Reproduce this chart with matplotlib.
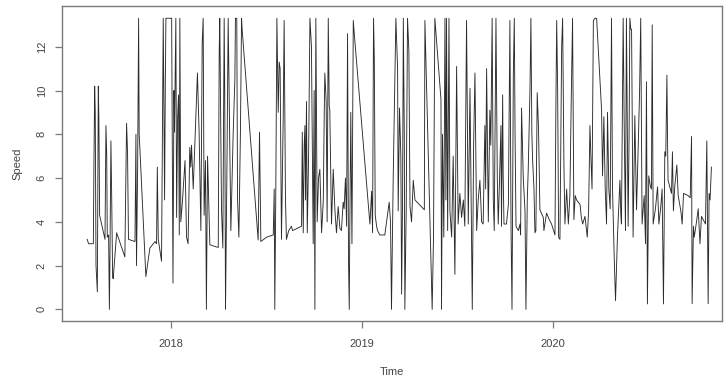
import matplotlib.pyplot as plt

# Tiempo (anos decimales) y velocidad
tiempo = [
    2017.562, 2017.569, 2017.594, 2017.597, 2017.601, 2017.604, 2017.608, 2017.615, 2017.620, 2017.623,
    2017.627, 2017.655, 2017.660, 2017.664, 2017.667, 2017.674, 2017.678, 2017.681, 2017.686, 2017.690,
    2017.695, 2017.698, 2017.716, 2017.759, 2017.768, 2017.773, 2017.778, 2017.812, 2017.817, 2017.820,
    2017.826, 2017.831, 2017.834, 2017.838, 2017.869, 2017.890, 2017.917, 2017.925, 2017.929, 2017.934,
    2017.951, 2017.960, 2017.967, 2017.971, 2017.974, 2018.004, 2018.007, 2018.011, 2018.016, 2018.019,
    2018.026, 2018.030, 2018.035, 2018.040, 2018.044, 2018.047, 2018.052, 2018.061, 2018.074,
    2018.082, 2018.090, 2018.099, 2018.104, 2018.108, 2018.117, 2018.139, 2018.148, 2018.157, 2018.164,
    2018.169, 2018.174, 2018.181, 2018.186, 2018.192, 2018.204, 2018.248, 2018.253, 2018.256, 2018.265,
    2018.272, 2018.279, 2018.282, 2018.286, 2018.293, 2018.300, 2018.307, 2018.314, 2018.326, 2018.335,
    2018.338, 2018.345, 2018.349, 2018.356, 2018.364, 2018.370, 2018.373, 2018.448, 2018.457, 2018.464,
    2018.471, 2018.501, 2018.536, 2018.541, 2018.544, 2018.549, 2018.555, 2018.562, 2018.567, 2018.572,
    2018.579, 2018.588, 2018.593, 2018.600, 2018.605, 2018.617, 2018.631,
    2018.637, 2018.684, 2018.688, 2018.693, 2018.698, 2018.702, 2018.705, 2018.710, 2018.714, 2018.721,
    2018.728, 2018.736, 2018.745, 2018.750, 2018.754, 2018.759, 2018.766, 2018.773, 2018.780, 2018.789,
    2018.798, 2018.803, 2018.806, 2018.813, 2018.818, 2018.824, 2018.829, 2018.832, 2018.841, 2018.850,
    2018.859, 2018.867, 2018.876, 2018.885, 2018.893, 2018.902, 2018.907, 2018.914, 2018.920, 2018.925,
    2018.930, 2018.934, 2018.937, 2018.942, 2018.948, 2018.955, 2018.960, 2019.042, 2019.051, 2019.056,
    2019.061, 2019.065, 2019.070, 2019.077, 2019.082, 2019.094, 2019.120, 2019.143, 2019.150, 2019.155,
    2019.164, 2019.178,
    2019.187, 2019.190, 2019.197, 2019.204, 2019.208, 2019.213, 2019.217, 2019.222, 2019.225, 2019.232,
    2019.239, 2019.246, 2019.252, 2019.260, 2019.269, 2019.278, 2019.327, 2019.330, 2019.368, 2019.375,
    2019.382, 2019.414, 2019.417, 2019.422, 2019.429, 2019.435, 2019.440, 2019.443, 2019.449, 2019.456,
    2019.461, 2019.470, 2019.478, 2019.484, 2019.487, 2019.496, 2019.504, 2019.513, 2019.522, 2019.531,
    2019.539, 2019.548, 2019.557, 2019.566, 2019.573, 2019.578, 2019.585, 2019.592, 2019.601, 2019.609,
    2019.618, 2019.627, 2019.635, 2019.644, 2019.648, 2019.653, 2019.662, 2019.670, 2019.675, 2019.682,
    2019.688, 2019.693, 2019.702, 2019.709, 2019.714, 2019.721, 2019.728,
    2019.731, 2019.737, 2019.740, 2019.744, 2019.757, 2019.767, 2019.775, 2019.781, 2019.786, 2019.793,
    2019.798, 2019.802, 2019.807, 2019.819, 2019.828, 2019.831, 2019.836, 2019.845, 2019.854, 2019.859,
    2019.866, 2019.871, 2019.880, 2019.885, 2019.890, 2019.894, 2019.901, 2019.906, 2019.911, 2019.918,
    2019.925, 2019.932, 2019.950, 2019.953, 2019.967, 2019.981, 2019.993, 2020.011, 2020.016, 2020.020,
    2020.025, 2020.030, 2020.037, 2020.042, 2020.046, 2020.051, 2020.058, 2020.063, 2020.072, 2020.081,
    2020.089, 2020.096, 2020.103, 2020.110, 2020.117, 2020.124, 2020.133, 2020.142, 2020.149, 2020.156,
    2020.168, 2020.180, 2020.187, 2020.194, 2020.199, 2020.205, 2020.212, 2020.220, 2020.229, 2020.255,
    2020.260, 2020.267, 2020.274, 2020.281,
    2020.286, 2020.293, 2020.300, 2020.307, 2020.312, 2020.321, 2020.328, 2020.338, 2020.351, 2020.356,
    2020.359, 2020.368, 2020.373, 2020.380, 2020.385, 2020.391, 2020.394, 2020.399, 2020.403, 2020.408,
    2020.412, 2020.420, 2020.429, 2020.438, 2020.447, 2020.454, 2020.460, 2020.467, 2020.478, 2020.485,
    2020.490, 2020.495, 2020.502, 2020.511, 2020.516, 2020.520, 2020.525, 2020.537, 2020.548, 2020.555,
    2020.565, 2020.572, 2020.579, 2020.586, 2020.591, 2020.597, 2020.600, 2020.603, 2020.621, 2020.626,
    2020.631, 2020.638, 2020.649, 2020.656, 2020.670, 2020.677, 2020.684, 2020.708, 2020.719, 2020.726,
    2020.729, 2020.736, 2020.740, 2020.752, 2020.761, 2020.770, 2020.778, 2020.799, 2020.806, 2020.813,
    2020.818, 2020.823, 2020.830,
]

velocidad = [
    3.2, 3.0, 3.0, 6.5, 10.2, 9.0, 2.0, 0.8, 10.2, 8.7,
    4.3, 3.2, 8.4, 7.1, 3.3, 3.4, 0.0, 2.4, 7.7, 5.2,
    1.5, 1.4, 3.5, 2.4, 8.5, 7.2, 3.2, 3.1, 8.0, 2.0,
    6.5, 13.3, 8.0, 7.3, 1.5, 2.8, 3.1, 3.0, 6.5, 3.2,
    2.2, 13.3, 5.0, 10.5, 13.3, 13.3, 8.3, 1.2, 10.0, 8.1,
    13.3, 4.2, 8.7, 9.8, 3.4, 13.3, 4.0, 5.0, 6.8,
    3.3, 3.0, 7.4, 6.5, 7.5, 5.5, 10.8, 8.0, 3.6, 12.2,
    13.3, 4.3, 6.8, 0.0, 7.0, 2.95, 2.83, 11.8, 13.3, 4.6,
    2.8, 13.3, 9.9, 0.0, 6.0, 13.3, 8.5, 3.6, 8.0, 10.5,
    13.3, 13.3, 5.0, 3.3, 8.0, 13.3, 12.8, 4.2, 3.17, 8.1,
    3.1, 3.3, 3.4, 5.5, 0.0, 5.0, 13.3, 9.0, 11.3, 11.0,
    3.2, 8.7, 13.2, 5.0, 3.2, 3.6, 3.8,
    3.6, 3.8, 8.1, 3.5, 7.5, 8.4, 5.0, 9.5, 3.5, 7.0,
    13.3, 12.0, 3.0, 10.0, 0.0, 13.3, 4.0, 6.0, 6.4, 3.5,
    5.0, 9.0, 10.8, 9.5, 4.0, 13.3, 9.3, 9.1, 3.9, 6.4,
    4.5, 3.5, 4.7, 3.7, 3.6, 4.9, 4.6, 6.0, 3.8, 12.6,
    2.2, 0.0, 4.0, 9.0, 3.0, 13.2, 12.6, 3.9, 5.4, 3.5,
    13.3, 11.5, 4.3, 3.8, 3.6, 3.4, 3.4, 4.9, 4.0, 0.0,
    6.0, 13.3,
    11.0, 4.5, 9.2, 7.0, 0.7, 5.0, 13.3, 8.0, 0.0, 4.5,
    13.3, 11.8, 4.7, 4.0, 5.9, 5.0, 4.55, 13.2, 0.0, 3.3,
    13.3, 9.6, 0.0, 8.0, 3.3, 13.3, 5.0, 13.3, 3.6, 13.3,
    4.5, 3.3, 7.0, 3.4, 1.6, 11.1, 3.9, 5.3, 4.2, 5.0,
    3.8, 13.2, 3.9, 10.1, 4.4, 0.0, 7.5, 10.8, 3.6, 5.0,
    5.9, 4.0, 3.9, 8.4, 5.5, 11.0, 4.0, 9.1, 7.5, 13.3,
    5.0, 3.6, 13.3, 6.0, 3.9, 6.0, 8.4,
    3.8, 9.8, 6.0, 3.9, 3.9, 4.8, 13.2, 3.6, 0.0, 10.8,
    13.3, 8.0, 3.8, 3.6, 3.9, 3.4, 9.2, 6.0, 4.5, 0.0,
    5.0, 6.4, 10.0, 13.3, 8.0, 6.8, 5.5, 3.5, 3.6, 9.9,
    8.2, 4.55, 4.2, 3.6, 4.4, 4.1, 3.9, 3.4, 9.5, 13.2,
    10.0, 3.3, 3.2, 8.0, 12.0, 13.3, 6.5, 3.9, 5.5, 3.9,
    5.2, 9.5, 13.3, 4.1, 5.2, 5.0, 4.9, 4.8, 4.2, 3.9,
    4.25, 3.3, 4.5, 8.4, 7.0, 5.5, 13.2, 13.3, 13.3, 9.1,
    6.1, 8.8, 5.5, 3.9,
    9.0, 5.5, 4.6, 13.3, 5.6, 2.4, 0.4, 3.3, 5.9, 4.3,
    3.9, 13.3, 8.8, 3.6, 13.3, 7.0, 3.8, 8.0, 13.3, 12.8,
    12.8, 3.3, 8.85, 4.55, 7.5, 10.0, 13.3, 3.9, 5.2, 3.0,
    10.4, 0.25, 6.1, 5.6, 5.5, 13.0, 3.9, 4.6, 5.6, 3.9,
    4.7, 5.5, 0.25, 7.2, 7.0, 10.7, 8.0, 5.9, 5.3, 7.2,
    4.5, 5.6, 6.6, 5.2, 4.5, 3.9, 5.3, 5.2, 5.1, 7.9,
    0.26, 3.8, 3.3, 4.0, 4.6, 3.0, 4.25, 3.9, 7.7, 0.26,
    5.3, 5.0, 6.5,
]

anios = [2018, 2019, 2020]
marcas_y = [0, 2, 4, 6, 8, 10, 12]

plt.rcParams['font.family'] = ['Liberation Sans', 'DejaVu Sans']

fig = plt.figure(figsize=(7.27, 3.78), dpi=100)
ax = fig.add_axes([0.0853, 0.1508, 0.9077, 0.8333])

ax.plot(tiempo, velocidad, color='#2b2b2b', linewidth=0.65)

ax.set_xlim(2017.43, 2020.885)
ax.set_ylim(-0.53, 13.86)
ax.set_xticks(anios)
ax.set_xticklabels([str(a) for a in anios])
ax.set_yticks(marcas_y)
ax.set_yticklabels([str(v) for v in marcas_y], rotation=90, va='center')

for lado in ax.spines.values():
    lado.set_color('#7a7a7a')
    lado.set_linewidth(1.0)

ax.tick_params(axis='both', direction='out', length=5, width=0.9, color='#7a7a7a',
               labelsize=8, labelcolor='#444444')
ax.tick_params(axis='x', pad=8)
ax.tick_params(axis='y', pad=6)

ax.set_xlabel('Time', fontsize=8, color='#444444', labelpad=13)
ax.set_ylabel('Speed', fontsize=8, color='#444444', labelpad=10)

fig.savefig('out.png', dpi=100)
